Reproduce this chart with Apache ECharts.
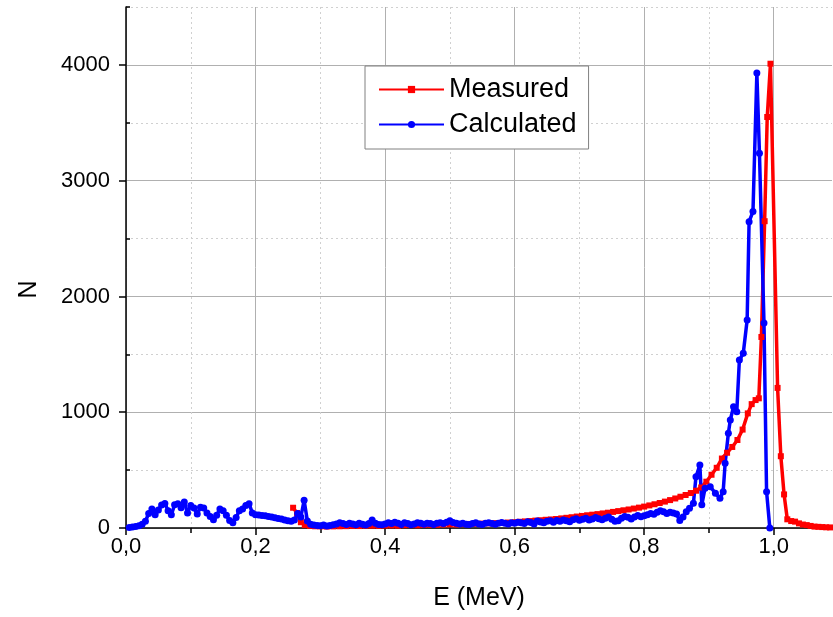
<!DOCTYPE html>
<html><head><meta charset="utf-8">
<script src="https://cdn.jsdelivr.net/npm/echarts@6/dist/echarts.min.js"></script>
<style>html,body{margin:0;padding:0;background:#fff}#c{width:833px;height:617px}</style>
</head><body><div id="c"></div>
<script>
// Measured spectrum (red)
const measuredE = [
0.258,0.264,0.270,0.276,0.284,0.292,0.300,0.310,0.320,0.330,
0.340,0.350,0.360,0.370,0.380,0.390,0.400,0.410,0.420,0.430,
0.440,0.450,0.460,0.470,0.480,0.490,0.500,0.510,0.520,0.530,
0.540,0.550,0.560,0.570,0.580,0.590,0.600,0.608,0.616,0.624,
0.632,0.640,0.648,0.656,0.664,0.672,0.680,0.688,0.696,0.704,
0.712,0.720,0.728,0.736,0.744,0.752,0.760,0.768,0.776,0.784,
0.792,0.800,0.808,0.816,0.824,0.832,0.840,0.848,0.856,0.864,
0.872,0.880,0.888,0.896,0.904,0.912,0.920,0.928,0.936,0.944,
0.952,0.960,0.966,0.972,0.977,0.981,0.986,0.990,0.995,
1.006,1.011,1.016,1.021,1.027,1.033,1.039,1.045,1.051,1.057,
1.063,1.069,1.075,1.081,1.087];
const measuredN = [
175,130,50,25,18,15,14,12,14,15,
16,18,17,19,20,18,21,22,20,24,
25,23,26,28,27,30,31,30,33,35,
36,38,40,42,44,47,50,54,57,60,
64,67,71,74,78,83,88,93,99,104,
110,115,120,126,132,139,146,153,160,168,
176,185,195,205,216,228,241,255,270,285,
302,322,350,400,460,520,600,650,700,760,
850,990,1070,1105,1120,1650,2650,3550,4010,
1210,620,290,75,60,55,40,30,25,18,
12,10,8,6,5];

// Calculated spectrum (blue)
const calcE = [
0.005,0.010,0.015,0.020,0.025,0.030,0.035,0.040,0.045,0.050,
0.055,0.060,0.065,0.070,0.075,0.080,0.085,0.090,0.095,0.100,
0.105,0.110,0.115,0.120,0.125,0.130,0.135,0.140,0.145,0.150,
0.155,0.160,0.165,0.170,0.175,0.180,0.185,0.190,0.195,0.200,
0.205,0.210,0.215,0.220,0.225,0.230,0.235,0.240,0.245,0.250,
0.255,0.260,0.265,0.270,0.275,0.280,0.285,0.290,0.295,0.300,
0.305,0.310,0.315,0.320,0.325,0.330,0.335,0.340,0.345,0.350,
0.355,0.360,0.365,0.370,0.375,0.380,0.385,0.390,0.395,0.400,
0.405,0.410,0.415,0.420,0.425,0.430,0.435,0.440,0.445,0.450,
0.455,0.460,0.465,0.470,0.475,0.480,0.485,0.490,0.495,0.500,
0.505,0.510,0.515,0.520,0.525,0.530,0.535,0.540,0.545,0.550,
0.555,0.560,0.565,0.570,0.575,0.580,0.585,0.590,0.595,0.600,
0.605,0.610,0.615,0.620,0.625,0.630,0.635,0.640,0.645,0.650,
0.655,0.660,0.665,0.670,0.675,0.680,0.685,0.690,0.695,0.700,
0.705,0.710,0.715,0.720,0.725,0.730,0.735,0.740,0.745,0.750,
0.755,0.760,0.765,0.770,0.775,0.780,0.785,0.790,0.795,0.800,
0.805,0.810,0.815,0.820,0.825,0.830,0.835,0.840,0.845,0.850,
0.855,0.860,0.865,
0.870,0.876,0.880,0.886,0.889,0.894,0.902,0.910,0.917,0.922,
0.925,0.930,0.933,0.938,0.943,0.947,0.953,0.959,0.962,0.968,
0.974,0.978,0.985,0.989,0.994];
const calcN = [
5,8,12,20,32,58,125,165,115,155,
198,212,150,115,200,210,175,225,130,195,
172,120,180,172,130,100,72,110,165,150,
110,65,45,90,150,165,195,210,130,115,
112,108,105,100,95,88,82,78,70,62,
58,70,125,95,240,60,32,25,22,20,
25,18,22,28,35,45,38,30,42,35,
28,40,32,25,38,70,40,30,28,35,
45,38,50,42,30,45,38,28,35,45,
40,32,42,38,30,40,45,38,50,62,
48,42,35,40,32,30,38,45,35,30,
40,45,38,32,42,48,40,35,45,42,
50,45,38,55,48,35,60,52,45,58,
62,50,65,58,70,62,55,72,80,68,
75,85,70,78,90,80,72,85,95,75,
58,62,85,100,92,78,95,108,98,105,
115,125,118,135,150,140,125,135,130,120,
65,95,140,
170,213,443,544,200,343,357,300,257,314,
559,818,933,1048,1005,1451,1509,1797,2646,2733,
3930,3237,1770,314,0];

// Tick positions
const xMajorTicks = [0, 0.2, 0.4, 0.6, 0.8, 1.0];
const xMinorTicks = [0.1, 0.3, 0.5, 0.7, 0.9];
const yMajorTicks = [0, 1000, 2000, 3000, 4000];
const yMinorTicks = [500, 1500, 2500, 3500, 4500];

const FONT = '"Liberation Sans", Arial, sans-serif';
const fmt = v => v.toFixed(1).replace('.', ',');
const pairs = (xs, ys) => xs.map((x, i) => [x, ys[i]]);
const X_MAX = 1.09, Y_MAX = 4500;

const chart = echarts.init(document.getElementById('c'), null, {renderer: 'canvas'});
chart.setOption({
  animation: false,
  backgroundColor: '#ffffff',
  textStyle: {fontFamily: FONT},
  grid: {left: 126, right: 1, top: 7, bottom: 89, containLabel: false},
  legend: {
    orient: 'vertical', left: 365, top: 66,
    padding: [10, 12, 11, 13], itemGap: 8,
    itemWidth: 65, itemHeight: 9,
    borderColor: '#808080', borderWidth: 1, backgroundColor: '#ffffff',
    textStyle: {fontSize: 27, color: '#000', fontFamily: FONT},
    data: ['Measured', 'Calculated']
  },
  xAxis: [{
    type: 'value', min: 0, max: X_MAX,
    name: 'E (MeV)', nameLocation: 'middle', nameGap: 58,
    nameTextStyle: {fontSize: 25, color: '#000', fontFamily: FONT},
    axisLine: {lineStyle: {color: '#000', width: 1.5}},
    axisTick: {length: 7, customValues: xMajorTicks, lineStyle: {color: '#000', width: 1.5}},
    axisLabel: {fontSize: 22, color: '#000', margin: 8, customValues: xMajorTicks, formatter: fmt, fontFamily: FONT},
    splitLine: {show: true, lineStyle: {color: '#b0b0b0', width: 1}}
  }, {
    type: 'value', min: 0, max: X_MAX, position: 'bottom', offset: 0,
    axisLine: {show: false},
    axisTick: {show: true, length: 5, customValues: xMinorTicks, lineStyle: {color: '#000', width: 1.5}},
    axisLabel: {show: false},
    splitLine: {show: true, lineStyle: {color: '#d0d0d0', width: 1, type: [2, 3]}}
  }],
  yAxis: [{
    type: 'value', min: 0, max: Y_MAX,
    name: 'N', nameLocation: 'middle', nameGap: 84,
    nameTextStyle: {fontSize: 25, color: '#000', fontFamily: FONT, padding: [0, 44, 0, 0]},
    axisLine: {show: true, lineStyle: {color: '#000', width: 1.5}},
    axisTick: {show: true, length: 7, customValues: yMajorTicks, lineStyle: {color: '#000', width: 1.5}},
    axisLabel: {fontSize: 22, color: '#000', margin: 16, customValues: yMajorTicks, formatter: v => String(v), fontFamily: FONT},
    splitLine: {show: true, lineStyle: {color: '#b0b0b0', width: 1}}
  }, {
    type: 'value', min: 0, max: Y_MAX, position: 'left', offset: 0,
    axisLine: {show: false},
    axisTick: {show: true, inside: true, length: 4, customValues: yMinorTicks, lineStyle: {color: '#000', width: 1.5}},
    axisLabel: {show: false},
    splitLine: {show: true, lineStyle: {color: '#d0d0d0', width: 1, type: [2, 3]}}
  }],
  series: [{
    name: 'Measured', type: 'line', xAxisIndex: 0, yAxisIndex: 0,
    data: pairs(measuredE, measuredN),
    symbol: 'rect', symbolSize: 6, showAllSymbol: true,
    color: '#ff0000',
    lineStyle: {color: '#ff0000', width: 3.5},
    itemStyle: {color: '#ff0000'}
  }, {
    name: 'Calculated', type: 'line', xAxisIndex: 0, yAxisIndex: 0,
    data: pairs(calcE, calcN),
    symbol: 'circle', symbolSize: 7, showAllSymbol: true,
    color: '#0000ff',
    lineStyle: {color: '#0000ff', width: 3.5},
    itemStyle: {color: '#0000ff'}
  }]
});
</script></body></html>
